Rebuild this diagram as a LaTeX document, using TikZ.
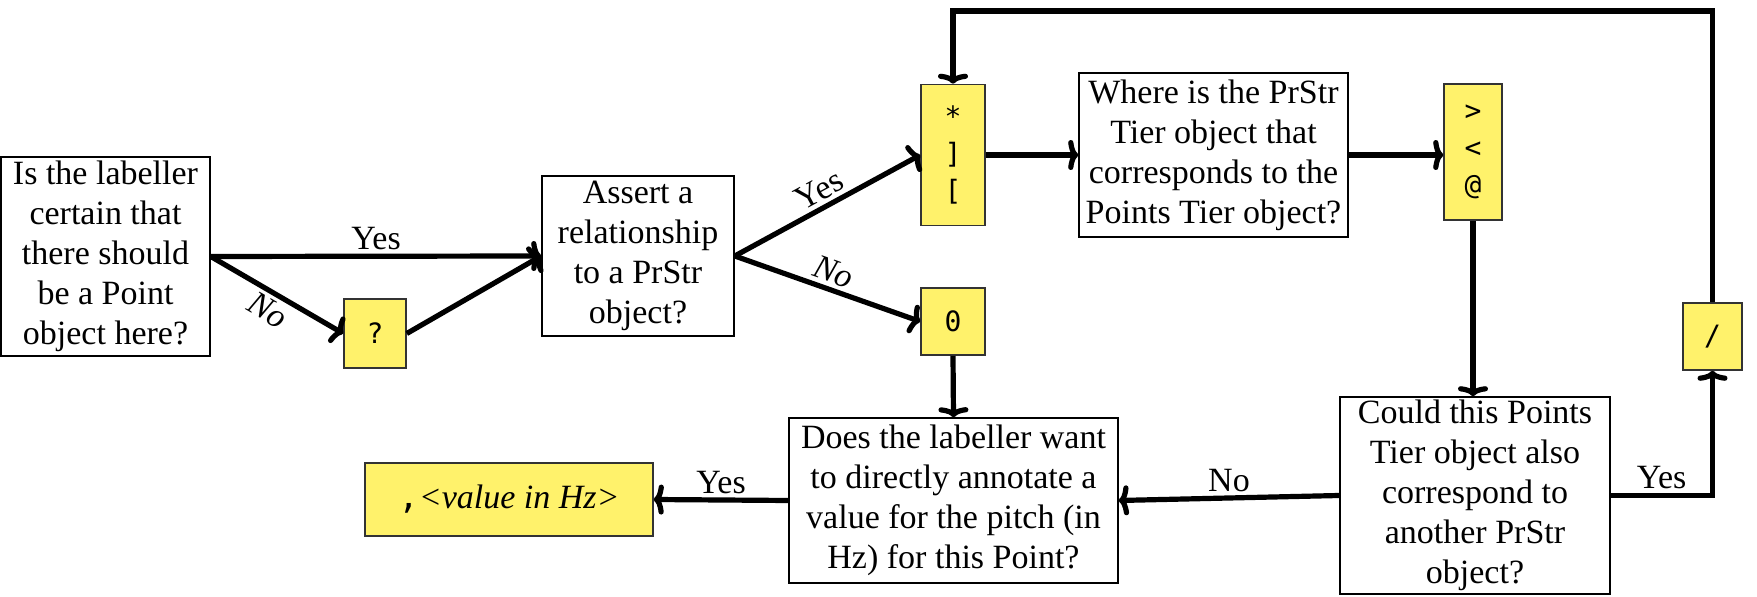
\documentclass[tikz,border=0pt]{standalone}
\usepackage{fontspec}
\setmainfont{Liberation Serif}
\newfontfamily\codefont{DejaVu Sans Mono}
\usetikzlibrary{arrows.meta}

\definecolor{tagyellow}{HTML}{FFF26B}

\begin{document}
\begin{tikzpicture}[x=0.5pt, y=-0.5pt,
    question/.style={draw, line width=0.8pt, align=center, inner sep=1pt,
        font=\fontsize{17}{20}\selectfont},
    tag/.style={draw=black!80, fill=tagyellow, line width=0.8pt, align=center,
        inner sep=1pt, font=\codefont\fontsize{14}{18.5}\selectfont},
    flow/.style={line width=2.6pt, -{To[length=5pt,width=15pt]}},
    answer/.style={font=\fontsize{17}{20}\selectfont, inner sep=2pt}]

\useasboundingbox (0,0) rectangle (1757,597);

% First question
\node[question, minimum width=104.5pt, minimum height=99.5pt] (isit) at (105.5,256.5)
    {Is the labeller\\certain that\\there should\\be a Point\\object here?};

% Unsure tag
\node[tag, minimum width=31pt, minimum height=34.5pt] (qmark) at (375,333.5) {?};

% Relationship question
\node[question, minimum width=96pt, minimum height=80pt] (assert) at (638,256)
    {Assert a\\relationship\\to a PrStr\\object?};

% Link tag
\node[tag, minimum width=32pt, minimum height=70.5pt] (link) at (953,155)
    {*\\]\\{[}};

% No relationship tag
\node[tag, minimum width=32pt, minimum height=33.5pt] (zero) at (953,321.5) {0};

% Where question
\node[question, minimum width=134.5pt, minimum height=82pt] (where) at (1213.5,155)
    {Where is the PrStr\\Tier object that\\corresponds to the\\Points Tier object?};

% Position tag
\node[tag, minimum width=29pt, minimum height=68pt] (anchor) at (1473,152)
    {>\\<\\@};

% Another relationship question
\node[question, minimum width=135pt, minimum height=98.5pt] (could) at (1475,495.5)
    {Could this Points\\Tier object also\\correspond to\\another PrStr\\object?};

% Repeat tag
\node[tag, minimum width=29.5pt, minimum height=33.5pt] (slash) at (1712.5,336.5) {/};

% Pitch question
\node[question, minimum width=164.5pt, minimum height=82.5pt] (does) at (953.5,500.5)
    {Does the labeller want\\to directly annotate a\\value for the pitch (in\\Hz) for this Point?};

% Pitch value tag
\node[tag, minimum width=144pt, minimum height=36.5pt, font=\fontsize{17}{20}\selectfont]
    (value) at (509,499.5) {{\codefont ,}\textit{<value in Hz>}};

% Loop corner
\coordinate (loopR) at (1712.5,11);

% Connectors
\draw[flow] (isit.east) -- node[answer, above] {Yes} (assert.west);
\draw[flow] (isit.east) -- node[answer, sloped, below] {\textit{No}} (qmark.west);
\draw[flow] (qmark.east) -- (assert.west);
\draw[flow] (assert.east) -- node[answer, sloped, above] {Yes} (link.west);
\draw[flow] (assert.east) -- node[answer, sloped, above] {\textit{No}} (zero.west);
\draw[flow] (link.east) -- (where.west);
\draw[flow] (where.east) -- (where.east -| anchor.west);
\draw[flow] (anchor.south) -- (anchor.south |- could.north);
\draw[flow] (zero.south) -- (does.north);
\draw[flow] (could.west) -- node[answer, above] {No} (does.east);
\draw[flow] (does.west) -- node[answer, above] {Yes} (value.east);
\draw[flow] (could.east) -| node[answer, above, pos=0.25] {Yes} (slash.south);
\draw[flow] (slash.north) -- (loopR) -| (link.north);

\end{tikzpicture}
\end{document}
